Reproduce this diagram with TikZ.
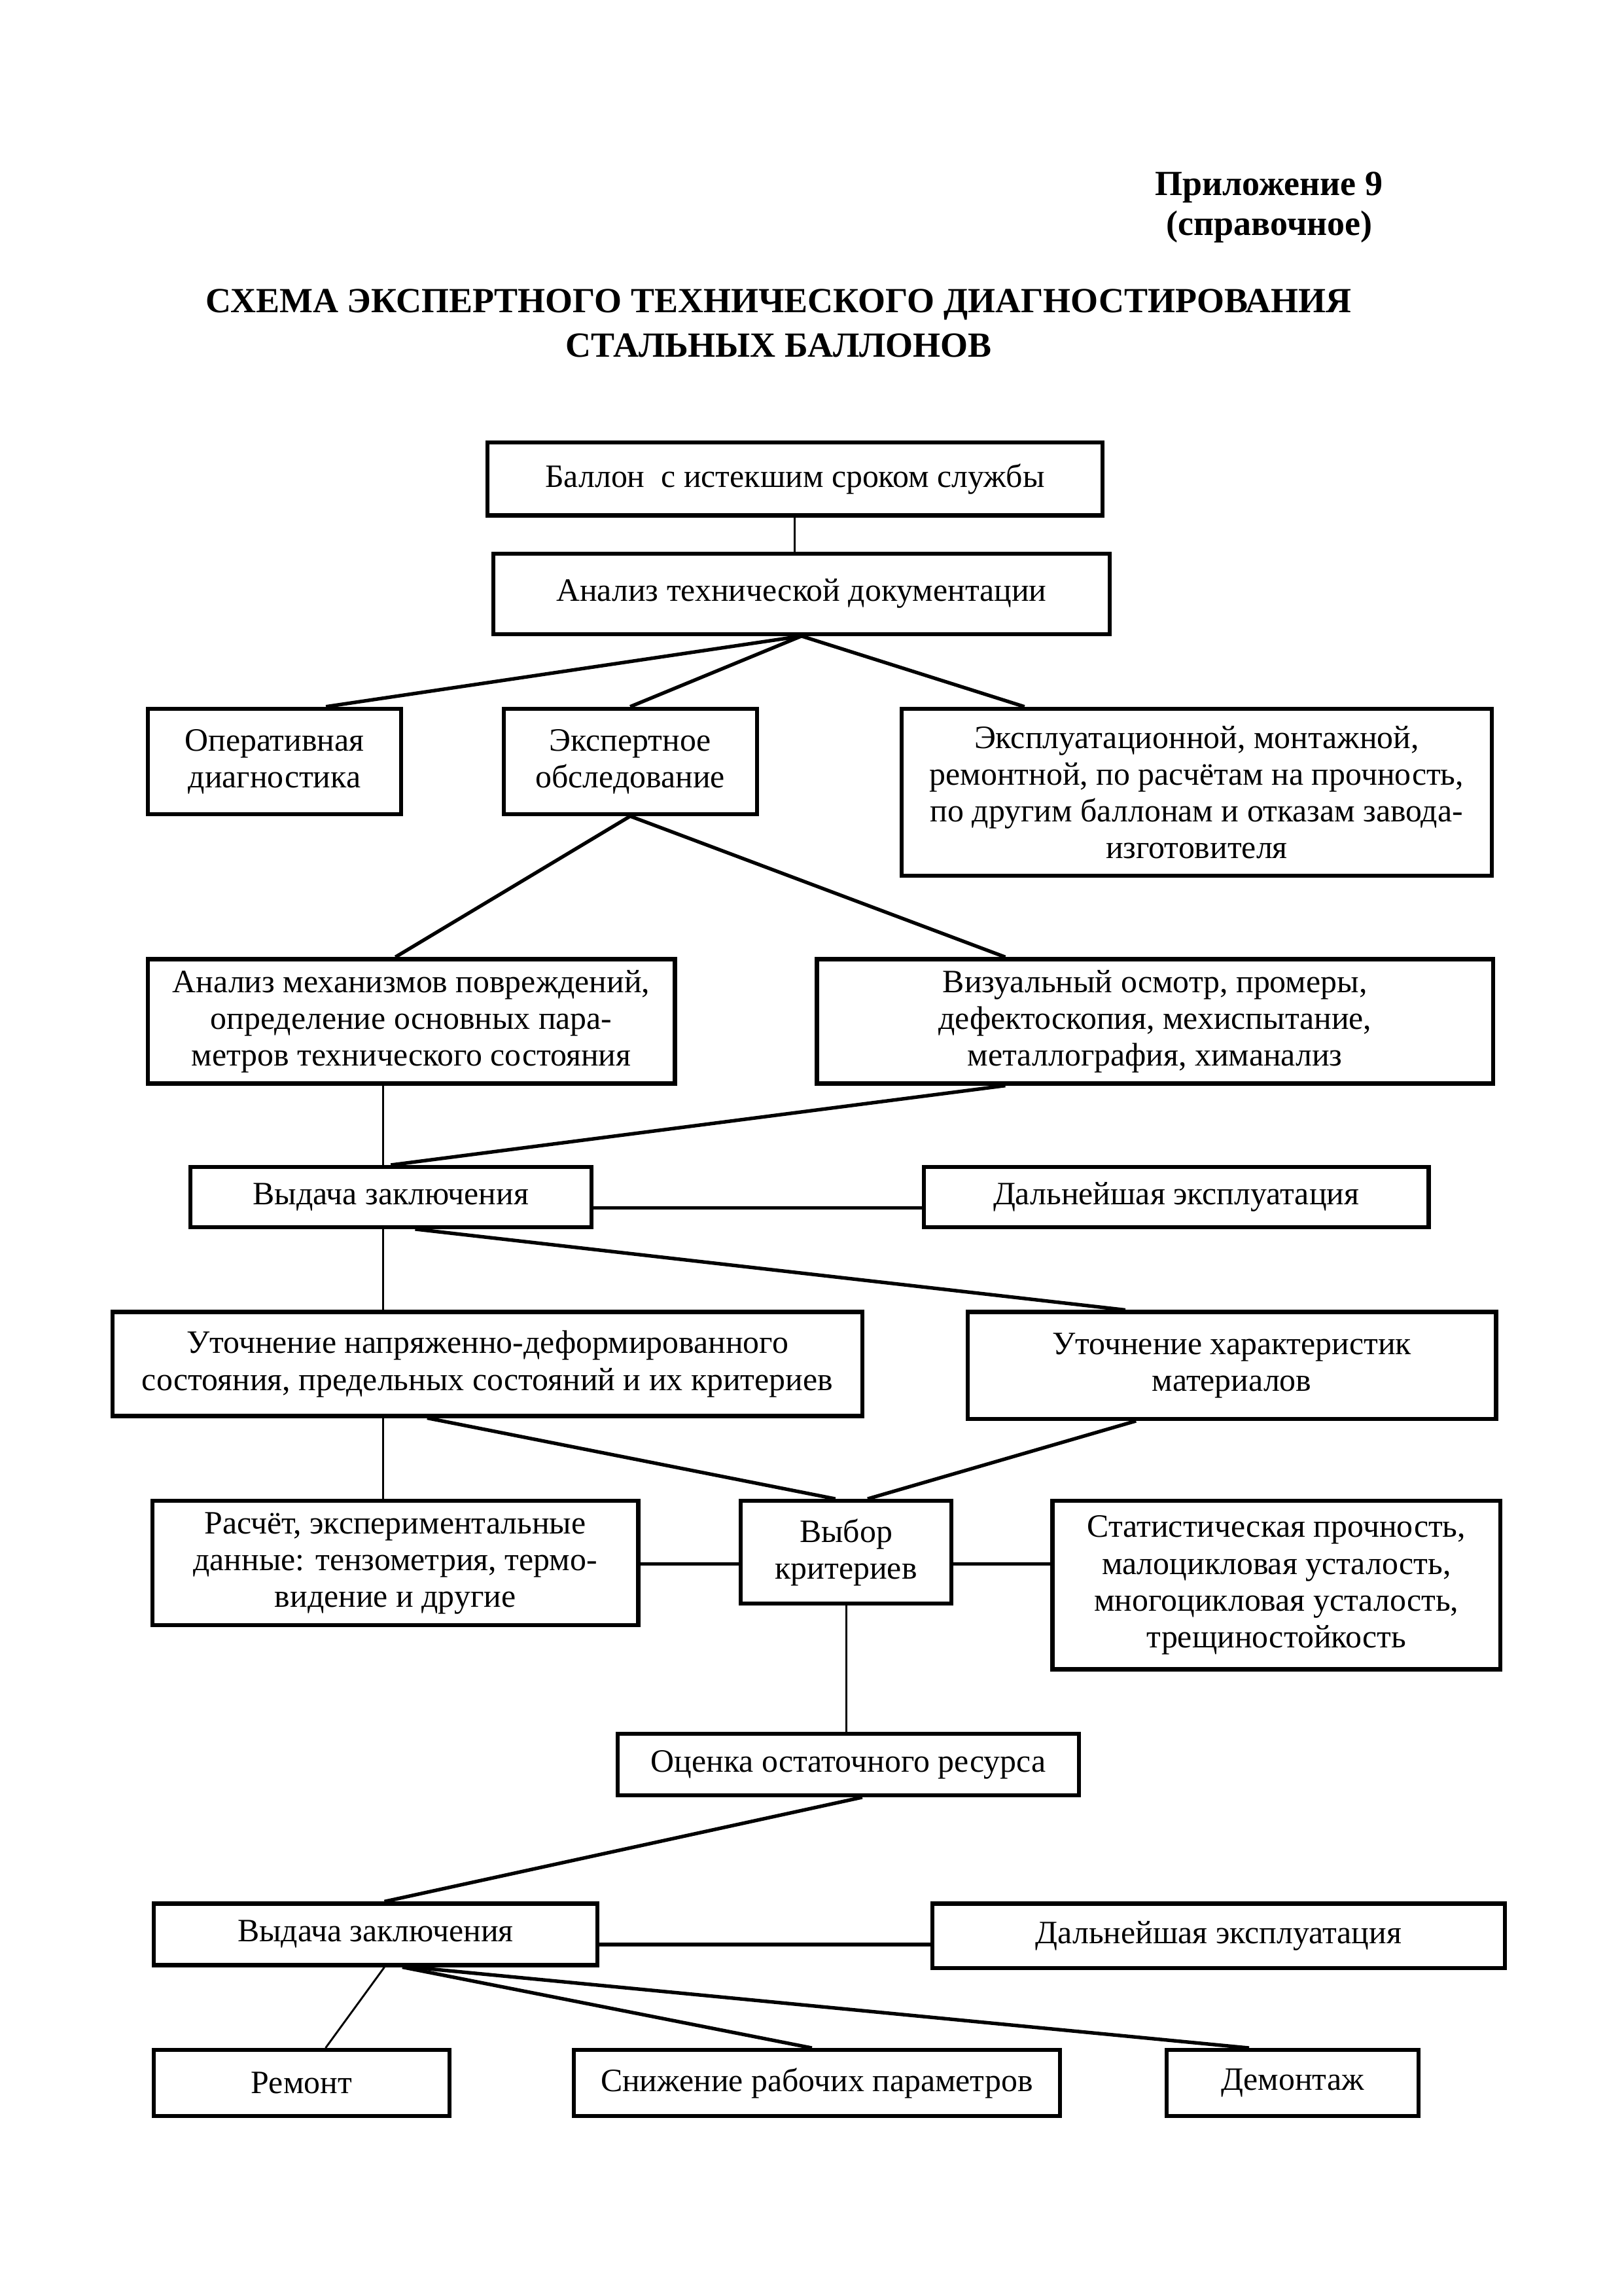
\documentclass[tikz,border=0pt]{standalone}
\usepackage{fontspec}
\setmainfont{Liberation Serif}
\usetikzlibrary{calc}
\tikzset{
  boxs/.style={draw, line width=1.5pt, align=center, inner sep=2pt,
    font=\fontsize{12}{13.5}\selectfont},
  thinl/.style={line width=0.7pt},
  thickl/.style={line width=1.3pt},
  headtxt/.style={font=\bfseries\fontsize{13}{15}\selectfont, inner sep=0pt},
}
\newcommand\bx[6]{%
  \pgfmathsetlengthmacro\bw{(#4-#2)*0.538781pt}%
  \pgfmathsetlengthmacro\bh{(#5-#3)*0.538781pt}%
  \node[boxs, minimum width=\bw, minimum height=\bh] (#1) at ({(#2+#4)/2},{(#3+#5)/2}) {#6};%
}
\begin{document}
\begin{tikzpicture}[x=0.538781pt, y=-0.538781pt]
\fill[white] (0,0) rectangle (1109,1568);
\useasboundingbox (0,0) rectangle (1109,1568);

\node[headtxt, anchor=east] (hdr1) at (945,128) {Приложение 9};
\node[headtxt, anchor=east] (hdr2) at (938,155) {(справочное)};
\node[headtxt] (tit1) at (532,208) {СХЕМА ЭКСПЕРТНОГО ТЕХНИЧЕСКОГО ДИАГНОСТИРОВАНИЯ};
\node[headtxt] (tit2) at (532,236) {СТАЛЬНЫХ БАЛЛОНОВ};

\bx{B1}{333}{302}{753}{352}{Баллон\ \ с истекшим сроком службы}
\bx{B2}{337}{378}{758}{433}{Анализ технической документации}
\bx{B3}{101}{484}{274}{556}{Оперативная\\диагностика}
\bx{B4}{344}{484}{517}{556}{Экспертное\\обследование}
\bx{B5}{616}{484}{1019}{598}{Эксплуатационной, монтажной,\\ремонтной, по расчётам на прочность,\\по другим баллонам и отказам завода-\\изготовителя}
\bx{B6}{101}{655}{461}{740}{Анализ механизмов повреждений,\\определение основных пара-\\метров технического состояния}
\bx{B7}{558}{655}{1020}{740}{Визуальный осмотр, промеры,\\дефектоскопия, мехиспытание,\\металлография, химанализ}
\bx{B8}{130}{797}{404}{838}{Выдача заключения}
\bx{B9}{631}{797}{976}{838}{Дальнейшая эксплуатация}
\bx{B10}{77}{896}{589}{967}{Уточнение напряженно-деформированного\\состояния, предельных состояний и их критериев}
\bx{B11}{661}{896}{1022}{969}{Уточнение характеристик\\материалов}
\bx{B12}{104}{1025}{436}{1110}{Расчёт, экспериментальные\\данные: тензометрия, термо-\\видение и другие}
\bx{B13}{506}{1025}{650}{1095}{Выбор\\критериев}
\bx{B14}{719}{1025}{1025}{1140}{Статистическая прочность,\\малоцикловая усталость,\\многоцикловая усталость,\\трещиностойкость}
\bx{B15}{422}{1184}{737}{1226}{Оценка остаточного ресурса}
\bx{B16}{105}{1300}{408}{1342}{Выдача заключения}
\bx{B17}{637}{1300}{1028}{1344}{Дальнейшая эксплуатация}
\bx{B18}{105}{1400}{307}{1445}{Ремонт}
\bx{B19}{392}{1400}{724}{1445}{Снижение рабочих параметров}
\bx{B20}{797}{1400}{969}{1445}{Демонтаж}

% connectors
\draw[thinl] (B1.south) -- (B1.south |- B2.north);
\draw[thickl] (B2.south) -- ($(B3.north west)!0.70!(B3.north east)$);
\draw[thickl] (B2.south) -- (B4.north);
\draw[thickl] (B2.south) -- ($(B5.north west)!0.21!(B5.north east)$);
\draw[thickl] (B4.south) -- ($(B6.north west)!0.47!(B6.north east)$);
\draw[thickl] (B4.south) -- ($(B7.north west)!0.28!(B7.north east)$);
\coordinate (v1) at ($(B6.south west)!0.447!(B6.south east)$);
\draw[thinl] (v1) -- (v1 |- B8.north);
\draw[thickl] ($(B7.south west)!0.28!(B7.south east)$) -- (B8.north);
\draw[thickl] (B8.east |- 0,825) -- (B9.west |- 0,825);
\coordinate (v2) at (v1 |- B8.south);
\draw[thinl] (v2) -- (v2 |- B10.north);
\draw[thickl] ($(B8.south west)!0.56!(B8.south east)$) -- ($(B11.north west)!0.30!(B11.north east)$);
\coordinate (v3) at (v1 |- B10.south);
\draw[thinl] (v3) -- (v3 |- B12.north);
\draw[thickl] ($(B10.south west)!0.42!(B10.south east)$) -- ($(B13.north west)!0.45!(B13.north east)$);
\draw[thickl] ($(B11.south west)!0.32!(B11.south east)$) -- ($(B13.north west)!0.60!(B13.north east)$);
\draw[thickl] (B12.east |- 0,1068) -- (B13.west |- 0,1068);
\draw[thickl] (B13.east |- 0,1068) -- (B14.west |- 0,1068);
\draw[thinl] (B13.south) -- (B13.south |- B15.north);
\draw[thickl] ($(B15.south west)!0.53!(B15.south east)$) -- ($(B16.north west)!0.52!(B16.north east)$);
\draw[thickl] (B16.east |- 0,1328) -- (B17.west |- 0,1328);
\draw[thinl] ($(B16.south west)!0.52!(B16.south east)$) -- ($(B18.north west)!0.58!(B18.north east)$);
\draw[thickl] ($(B16.south west)!0.56!(B16.south east)$) -- ($(B19.north west)!0.49!(B19.north east)$);
\draw[thickl] ($(B16.south west)!0.58!(B16.south east)$) -- ($(B20.north west)!0.33!(B20.north east)$);
\end{tikzpicture}
\end{document}
